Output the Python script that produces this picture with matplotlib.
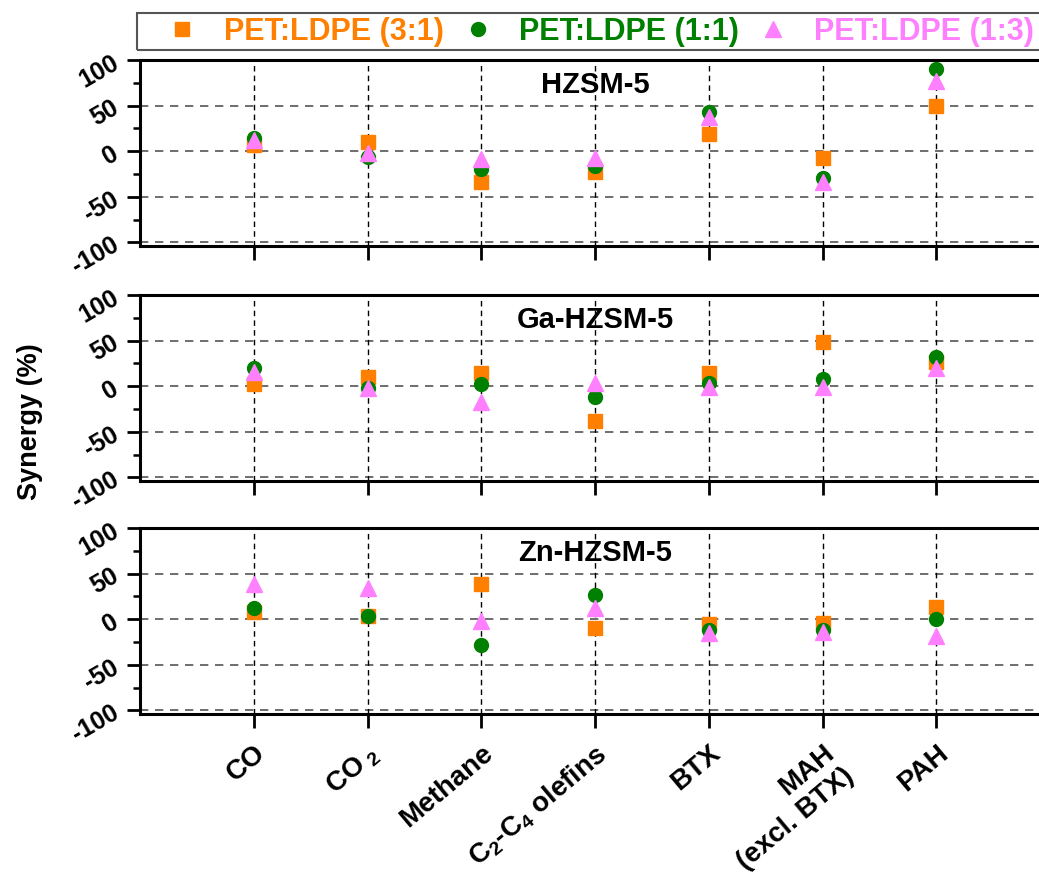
import numpy as np
import matplotlib
matplotlib.use("Agg")
import matplotlib.pyplot as plt
from matplotlib.patches import Rectangle
from matplotlib.ticker import MultipleLocator

plt.rcParams['font.family'] = ['Liberation Sans', 'DejaVu Sans']
plt.rcParams['font.weight'] = 'bold'
plt.rcParams['axes.unicode_minus'] = False
plt.rcParams['mathtext.fontset'] = 'custom'
plt.rcParams['mathtext.rm'] = 'Liberation Sans:bold'
plt.rcParams['mathtext.it'] = 'Liberation Sans:bold'
plt.rcParams['mathtext.bf'] = 'Liberation Sans:bold'

products = ["CO", r"CO$_{\ 2}$", "Methane", r"C$_2$-C$_4$ olefins", "BTX",
            "MAH\n(excl. BTX)", "PAH"]
catalysts = ["HZSM-5", "Ga-HZSM-5", "Zn-HZSM-5"]
blends = ["PET:LDPE (3:1)", "PET:LDPE (1:1)", "PET:LDPE (1:3)"]

# synergy (%) per catalyst, one list per blend ratio
hzsm5_31 = [7, 10, -34, -23, 19, -7, 49]
hzsm5_11 = [14, -6, -20, -16, 43, -29, 90]
hzsm5_13 = [12, -2, -9, -7, 37, -34, 77]

ga_31 = [2, 10, 14, -38, 14, 48, 26]
ga_11 = [20, -2, 2, -12, 4, 8, 32]
ga_13 = [16, -2, -17, 3, -1, -1, 20]

zn_31 = [8, 4, 39, -10, -5, -4, 13]
zn_11 = [12, 3, -28, 26, -12, -12, 0]
zn_13 = [39, 34, -2, 12, -15, -14, -18]

panels = [(hzsm5_31, hzsm5_11, hzsm5_13),
          (ga_31, ga_11, ga_13),
          (zn_31, zn_11, zn_13)]

colors = ['#ff8000', '#008000', '#ff80ff']
markers = ['s', 'o', '^']
msizes = [9.5, 10, 11]

W, H = 1039, 881
fig = plt.figure(figsize=(W / 100, H / 100), dpi=100)

x = np.arange(1, len(products) + 1)
tops = [60, 295, 528]
ax_h = 186
left = 140

axes = []
for k, (cat, series) in enumerate(zip(catalysts, panels)):
    ax = fig.add_axes([left / W, 1 - (tops[k] + ax_h) / H, 910 / W, ax_h / H])
    axes.append(ax)
    for j in range(3):
        ax.plot(x, series[j], linestyle='none', marker=markers[j],
                color=colors[j], markersize=msizes[j], label=blends[j],
                zorder=3)
    for yv in [-100, -50, 0, 50]:
        ax.axhline(yv, color='#555555', lw=1.2, ls=(0, (5, 4)), zorder=1)
    for xv in x:
        ax.axvline(xv, color='black', lw=1.0, ls=(0, (4, 3)), zorder=1)
    ax.set_xlim(0, 8)
    ax.set_ylim(-104, 100)
    ax.set_xticks(x)
    ax.yaxis.set_major_locator(MultipleLocator(50))
    ax.yaxis.set_minor_locator(MultipleLocator(25))
    ax.tick_params(axis='y', which='major', direction='out', length=9.5,
                   width=2, labelsize=18, pad=3, labelrotation=30)
    ax.tick_params(axis='y', which='minor', direction='out', length=5,
                   width=1.8)
    ax.tick_params(axis='x', direction='out', length=10, width=2)
    for lab in ax.get_yticklabels():
        lab.set_fontweight('bold')
    for s in ['left', 'top', 'bottom']:
        ax.spines[s].set_linewidth(2.2)
    ax.spines['right'].set_visible(False)
    ax.text(4.0, 73, cat, ha='center', va='center', fontsize=21,
            fontweight='bold')
    if k < 2:
        ax.set_xticklabels([])
    else:
        ax.set_xticklabels(products, rotation=40, ha='right', va='top',
                           rotation_mode='anchor', fontsize=20,
                           fontweight='bold')
        ax.tick_params(axis='x', pad=9)

fig.text(30 / W, 1 - 422 / H, "Synergy (%)", rotation=90, ha='center',
         va='center', fontsize=19.5, fontweight='bold')

# legend strip across the top, frame drawn separately so it runs off the edge
handles, labels = axes[0].get_legend_handles_labels()
leg = fig.legend(handles, labels, ncol=3, loc='center left',
                 bbox_to_anchor=(167 / W, 1 - 32 / H), frameon=False,
                 fontsize=22, handletextpad=0.85, columnspacing=0.62,
                 handlelength=1.0, borderpad=0, borderaxespad=0)
for txt, c in zip(leg.get_texts(), colors):
    txt.set_color(c)
    txt.set_fontweight('bold')
fig.patches.append(Rectangle((137 / W, 1 - 50 / H), (1045 - 137) / W, 37 / H,
                             transform=fig.transFigure, fill=False,
                             edgecolor='#555555', lw=1.5, clip_on=False))

fig.savefig("out.png", dpi=100)
